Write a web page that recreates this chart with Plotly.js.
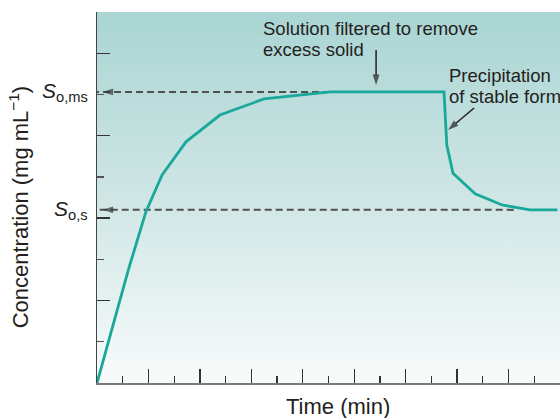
<!DOCTYPE html>
<html>
<head>
<meta charset="utf-8">
<script src="https://cdn.plot.ly/plotly-3.0.1.min.js"></script>
<style>html,body{margin:0;padding:0;background:#fff;}#chart{width:560px;height:418px;}</style>
</head>
<body>
<div id="chart"></div>
<script>
// Data (arbitrary units)
const time = [0, 1.24, 1.9, 2.53, 3.46, 4.78, 6.49, 9.06, 13.49, 13.6, 13.84, 14.7, 15.75, 16.83, 17.9];
const conc = [0, 2.79, 4.15, 5.05, 5.85, 6.50, 6.89, 7.06, 7.06, 5.77, 5.09, 4.59, 4.32, 4.20, 4.20];
const levelNames = ['<i>S</i><sub>o,ms</sub>', '<i>S</i><sub>o,s</sub>'];
const levelValues = [7.06, 4.20];
const levelEnds = [9.06, 16.2];
const notes = ['Solution filtered to remove', 'excess solid', 'Precipitation', 'of stable form'];
// callout arrows: tail -> head (data units)
const arrowTailX = [10.85, 14.66];
const arrowTailY = [8.08, 6.67];
const arrowHeadX = [10.85, 13.65];
const arrowHeadY = [7.23, 6.14];

const FONT = 'Liberation Sans, Arial, Helvetica, sans-serif';
const YMAX = 9;
const traces = [];
levelValues.forEach((v, i) => {
  traces.push({
    x: [levelEnds[i], 0], y: [v, v], mode: 'lines', type: 'scatter',
    line: {color: '#505050', width: 2, dash: '7px,4px'}, hoverinfo: 'skip', showlegend: false
  });
  traces.push({
    x: [0.6, 0.22], y: [v, v], mode: 'markers', type: 'scatter',
    marker: {symbol: 'arrow', size: [0, 11], angleref: 'previous', color: '#333333', line: {width: 0}},
    hoverinfo: 'skip', showlegend: false
  });
});
traces.push({
  x: time, y: conc, mode: 'lines', type: 'scatter',
  line: {color: '#19a89a', width: 2.8}, showlegend: false
});
arrowTailX.forEach((tx, i) => {
  traces.push({
    x: [tx, arrowHeadX[i]], y: [arrowTailY[i], arrowHeadY[i]], mode: 'lines+markers', type: 'scatter',
    line: {color: '#231f20', width: 1.5},
    marker: {symbol: 'arrow', size: [0, 11], angleref: 'previous', color: '#231f20', line: {width: 0}},
    hoverinfo: 'skip', showlegend: false
  });
});

const svg = "<svg xmlns='http://www.w3.org/2000/svg' width='10' height='100' preserveAspectRatio='none'>" +
  "<defs><linearGradient id='g' x1='0' y1='0' x2='0' y2='1'>" +
  "<stop offset='0' stop-color='#a9d5d3'/><stop offset='0.5' stop-color='#cfe6e5'/><stop offset='1' stop-color='#f8fbfb'/>" +
  "</linearGradient></defs><rect width='10' height='100' fill='url(#g)'/></svg>";

const annotations = [];
levelValues.forEach((v, i) => {
  annotations.push({
    x: -0.0151, y: v / YMAX, xref: 'paper', yref: 'paper', text: levelNames[i], showarrow: false,
    xanchor: 'right', yanchor: 'middle', font: {family: FONT, size: 21, color: '#231f20'}
  });
});
const noteX = [6.38, 6.38, 13.61, 13.61];
const noteY = [8.61, 8.09, 7.47, 6.95];
notes.forEach((t, i) => {
  annotations.push({
    x: noteX[i], y: noteY[i], xref: 'x', yref: 'y', text: t, showarrow: false,
    xanchor: 'left', yanchor: 'middle', font: {family: FONT, size: 18.5, color: '#231f20'}
  });
});
annotations.push({
  x: -0.168, y: 0.474, xref: 'paper', yref: 'paper', text: 'Concentration (mg mL<sup>\u22121</sup>)',
  textangle: -90, showarrow: false, xanchor: 'center', yanchor: 'middle',
  font: {family: FONT, size: 22, color: '#231f20'}
});
annotations.push({
  x: 0.5205, y: -0.062, xref: 'paper', yref: 'paper', text: 'Time (min)', showarrow: false,
  xanchor: 'center', yanchor: 'middle', font: {family: FONT, size: 22, color: '#231f20'}
});

const layout = {
  width: 560, height: 418,
  margin: {l: 97, r: 0, t: 12, b: 35, pad: 0},
  paper_bgcolor: '#ffffff', plot_bgcolor: 'rgba(0,0,0,0)',
  showlegend: false,
  xaxis: {
    range: [0, 18], showgrid: false, zeroline: false, showticklabels: false,
    showline: true, linecolor: '#7a7a7a', linewidth: 2,
    ticks: 'inside', dtick: 2, tick0: 0, ticklen: 14, tickwidth: 1.3, tickcolor: '#333333',
    minor: {dtick: 1, tick0: 0, ticks: 'inside', ticklen: 7, tickwidth: 1.3, tickcolor: '#333333'}
  },
  yaxis: {
    range: [0, YMAX], showgrid: false, zeroline: false, showticklabels: false,
    showline: true, linecolor: '#444444', linewidth: 1.5,
    ticks: 'inside', dtick: 2, tick0: 0, ticklen: 13, tickwidth: 1.3, tickcolor: '#333333',
    minor: {dtick: 1, tick0: 0, ticks: 'inside', ticklen: 7, tickwidth: 1.3, tickcolor: '#555555'}
  },
  images: [{
    source: 'data:image/svg+xml;charset=utf-8,' + encodeURIComponent(svg),
    xref: 'paper', yref: 'paper', x: 0, y: 1, sizex: 1, sizey: 1,
    xanchor: 'left', yanchor: 'top', sizing: 'stretch', layer: 'below'
  }],
  annotations: annotations
};

Plotly.newPlot('chart', traces, layout, {displayModeBar: false, staticPlot: true});
</script>
</body>
</html>
